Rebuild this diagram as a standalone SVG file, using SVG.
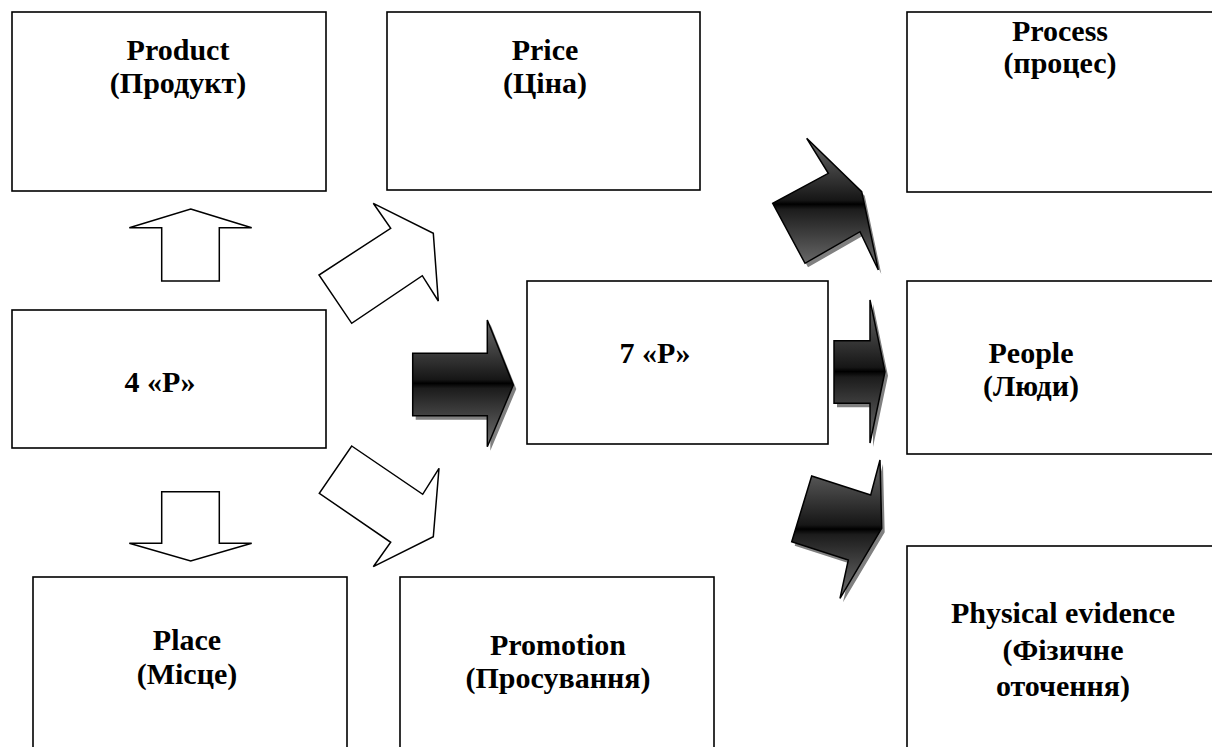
<svg xmlns="http://www.w3.org/2000/svg" width="1212" height="747" viewBox="0 0 1212 747">
  <style>
    .box { fill: #fff; stroke: #000; stroke-width: 1.6; }
    .lbl { font-family: "Liberation Serif", "Times New Roman", "DejaVu Serif", serif; font-weight: bold; font-size: 30px; fill: #000; text-anchor: middle; }
    .hollow { fill: #fff; stroke: #000; stroke-width: 1.5; stroke-linejoin: miter; }
    .solid { fill: url(#dark); stroke: #000; stroke-width: 1.5; stroke-linejoin: miter; }
    .shade { fill: #808080; }
  </style>
  <defs>
    <linearGradient id="dark" x1="0" y1="0" x2="0" y2="1">
      <stop offset="0" stop-color="#6a6a6a"/>
      <stop offset="0.47" stop-color="#161616"/>
      <stop offset="0.5" stop-color="#000"/>
      <stop offset="0.54" stop-color="#1c1c1c"/>
      <stop offset="1" stop-color="#707070"/>
    </linearGradient>
  </defs>

  <rect width="1212" height="747" fill="#fff"/>

  <g id="connectors">
    <!-- hollow arrows out of 4P -->
    <polygon class="hollow" points="190.7,209 251.7,227.7 219.3,227.7 219.3,281 161.7,281 161.7,227.7 129.3,227.7"/>
    <polygon class="hollow" points="161.7,491.7 219.3,491.7 219.3,543.3 251.7,543.3 190.7,561 129.3,543.3 161.7,543.3"/>
    <polygon class="hollow" points="373.3,203.3 433.3,233.3 438.3,301 422.3,275.7 351.7,323.3 319,275 390.7,228.3"/>
    <polygon class="hollow" points="351.7,446 422.7,494.3 439,468.3 433.3,536.7 373.3,566.7 390.7,542.3 319.3,493.3"/>

    <!-- dark arrows with drop shadow -->
    <g transform="translate(3,4)">
      <polygon class="shade" points="412.7,353.3 487.3,353.3 487.3,320 513.3,385 487.3,446.7 487.3,415.7 412.7,415.7"/>
      <polygon class="shade" points="806.7,138.3 861.7,191.7 878.3,270 860,231.7 805,263.3 772.7,203.3 828.3,173.3"/>
      <polygon class="shade" points="834,340.7 870,340.7 870,300 885,371.7 870,443 870,403.3 834,403.3"/>
      <polygon class="shade" points="880,460 881.7,528.3 840,598.3 848.3,560 791.7,541.7 811.7,476 870.7,495"/>
    </g>
    <polygon class="solid" points="412.7,353.3 487.3,353.3 487.3,320 513.3,385 487.3,446.7 487.3,415.7 412.7,415.7"/>
    <polygon class="solid" points="806.7,138.3 861.7,191.7 878.3,270 860,231.7 805,263.3 772.7,203.3 828.3,173.3"/>
    <polygon class="solid" points="834,340.7 870,340.7 870,300 885,371.7 870,443 870,403.3 834,403.3"/>
    <polygon class="solid" points="880,460 881.7,528.3 840,598.3 848.3,560 791.7,541.7 811.7,476 870.7,495"/>
  </g>

  <g id="product">
    <rect class="box" x="12" y="12" width="314" height="179"/>
    <text class="lbl" x="178" y="60">Product</text>
    <text class="lbl" x="178" y="93">(Продукт)</text>
  </g>
  <g id="price">
    <rect class="box" x="387" y="12" width="313" height="178"/>
    <text class="lbl" x="545" y="60">Price</text>
    <text class="lbl" x="545" y="93">(Ціна)</text>
  </g>
  <g id="process">
    <rect class="box" x="907" y="12" width="330" height="180"/>
    <text class="lbl" x="1060" y="41">Process</text>
    <text class="lbl" x="1060" y="73">(процес)</text>
  </g>
  <g id="four-p">
    <rect class="box" x="12" y="310" width="314" height="138"/>
    <text class="lbl" x="160" y="392">4 «P»</text>
  </g>
  <g id="seven-p">
    <rect class="box" x="527" y="281" width="301" height="163"/>
    <text class="lbl" x="655" y="363">7 «P»</text>
  </g>
  <g id="people">
    <rect class="box" x="907" y="281" width="330" height="173"/>
    <text class="lbl" x="1031" y="363">People</text>
    <text class="lbl" x="1031" y="396">(Люди)</text>
  </g>
  <g id="place">
    <rect class="box" x="33" y="577" width="314" height="200"/>
    <text class="lbl" x="187" y="650">Place</text>
    <text class="lbl" x="187" y="684">(Місце)</text>
  </g>
  <g id="promotion">
    <rect class="box" x="400" y="577" width="314" height="200"/>
    <text class="lbl" x="558" y="655">Promotion</text>
    <text class="lbl" x="558" y="688">(Просування)</text>
  </g>
  <g id="physical-evidence">
    <rect class="box" x="907" y="546" width="330" height="230"/>
    <text class="lbl" x="1063" y="623">Physical evidence</text>
    <text class="lbl" x="1063" y="660">(Фізичне</text>
    <text class="lbl" x="1063" y="696">оточення)</text>
  </g>
</svg>
